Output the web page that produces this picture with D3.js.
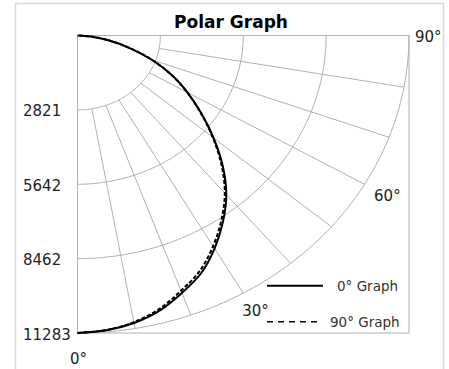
<!DOCTYPE html>
<html>
<head>
<meta charset="utf-8">
<script src="https://cdn.jsdelivr.net/npm/d3@7"></script>
<style>
  body { margin: 0; background: #fff; }
  text { font-family: "DejaVu Sans", sans-serif; fill: #222; }
</style>
</head>
<body>
<div id="chart"></div>
<script>
// angles in degrees, 0 pointing down, 90 pointing right
const angles = [0, 5, 10, 15, 20, 25, 30, 35, 40, 45, 50, 55, 60, 65, 70, 75, 80, 85, 90];
// values for the two series
const graph0 = [11283, 11225, 11070, 10800, 10390, 9950, 9330, 8630, 7880, 6990, 6050, 5145, 4325, 3540, 2690, 1840, 1100, 450, 0];
const graph90 = [11283, 11215, 11040, 10740, 10300, 9850, 9230, 8540, 7800, 6930, 6010, 5120, 4310, 3530, 2690, 1840, 1100, 450, 0];
// rings and their labels
const ringValues = [2821, 5642, 8462, 11283];
const ringLabels = ["2821", "5642", "8462", "11283"];
// spokes and angle labels
const spokeAngles = [10, 20, 30, 40, 50, 60, 70, 80];
const angleTicks = [0, 30, 60, 90];
const angleLabels = ["0°", "30°", "60°", "90°"];
const seriesNames = ["0° Graph", "90° Graph"];

const width = 449;
const height = 369;
const rMax = 11283;
const gridColor = "#b0b0b0";

const svg = d3.select("#chart").append("svg")
  .attr("width", width)
  .attr("height", height);

// outer chart frame
svg.append("rect")
  .attr("x", 15.5).attr("y", 3.5)
  .attr("width", 428).attr("height", 380)
  .attr("fill", "none")
  .attr("stroke", "#d9d9d9")
  .attr("stroke-width", 1.5);

// the plot is not square, so x and y get their own scales
const x = d3.scaleLinear().domain([0, rMax]).range([77.5, 409]);
const y = d3.scaleLinear().domain([0, rMax]).range([35.5, 333]);

const rad = deg => deg * Math.PI / 180;
const polar = (deg, r) => [x(r * Math.sin(rad(deg))), y(r * Math.cos(rad(deg)))];

const gridG = svg.append("g").attr("id", "grid");
const dataG = svg.append("g").attr("id", "data");

// plot area border
gridG.append("rect")
  .attr("x", x(0)).attr("y", y(0))
  .attr("width", x(rMax) - x(0))
  .attr("height", y(rMax) - y(0))
  .attr("fill", "none")
  .attr("stroke", gridColor);

// rings
const arcLine = d3.line();
gridG.selectAll("path.ring")
  .data(ringValues)
  .enter().append("path")
  .attr("class", "ring")
  .attr("d", r => arcLine(d3.range(0, 90.5, 1).map(a => polar(a, r))))
  .attr("fill", "none")
  .attr("stroke", gridColor);

// spokes run from first ring to outer ring
gridG.selectAll("line.spoke")
  .data(spokeAngles)
  .enter().append("line")
  .attr("class", "spoke")
  .attr("x1", a => polar(a, ringValues[0])[0])
  .attr("y1", a => polar(a, ringValues[0])[1])
  .attr("x2", a => polar(a, rMax)[0])
  .attr("y2", a => polar(a, rMax)[1])
  .attr("stroke", gridColor);

// ring labels down the left side
svg.selectAll("text.rlabel")
  .data(ringValues)
  .enter().append("text")
  .attr("class", "rlabel")
  .attr("x", 23)
  .attr("y", r => y(r) + 6.5)
  .attr("font-size", 15)
  .text((r, i) => ringLabels[i]);

// angle labels round the outside
const angleOffsets = [[-7.5, 31], [-1, 23], [9.5, 17], [6, 6.5]];
svg.selectAll("text.alabel")
  .data(angleTicks)
  .enter().append("text")
  .attr("class", "alabel")
  .attr("x", (a, i) => polar(a, rMax)[0] + angleOffsets[i][0])
  .attr("y", (a, i) => polar(a, rMax)[1] + angleOffsets[i][1])
  .attr("font-size", 15)
  .text((a, i) => angleLabels[i]);

// series curves
const curve = d3.line().curve(d3.curveCatmullRom);
const series = [
  { name: seriesNames[0], values: graph0, dash: null, w: 2 },
  { name: seriesNames[1], values: graph90, dash: "4,2", w: 2 }
];

dataG.selectAll("path.series")
  .data(series)
  .enter().append("path")
  .attr("class", "series")
  .attr("d", s => curve(angles.map((a, i) => polar(a, s.values[i]))))
  .attr("fill", "none")
  .attr("stroke", "#000")
  .attr("stroke-width", s => s.w)
  .attr("stroke-dasharray", s => s.dash);

// title
svg.append("text")
  .attr("x", 231).attr("y", 28)
  .attr("text-anchor", "middle")
  .attr("font-size", 17)
  .attr("font-weight", "bold")
  .style("fill", "#000")
  .text("Polar Graph");

// legend
const legend = svg.append("g").attr("id", "legend");
const legendRows = [
  { y: 285.7, x2: 323, dash: null, w: 2, tx: 337, ty: 291 },
  { y: 321.7, x2: 320, dash: "6,5", w: 1.6, tx: 330, ty: 326.5 }
];
legendRows.forEach((row, i) => {
  legend.append("line")
    .attr("x1", 267).attr("x2", row.x2)
    .attr("y1", row.y).attr("y2", row.y)
    .attr("stroke", "#000")
    .attr("stroke-width", row.w)
    .attr("stroke-dasharray", row.dash);
  legend.append("text")
    .attr("x", row.tx).attr("y", row.ty)
    .attr("font-size", 13.5)
    .style("fill", "#333")
    .text(series[i].name);
});
</script>
</body>
</html>
